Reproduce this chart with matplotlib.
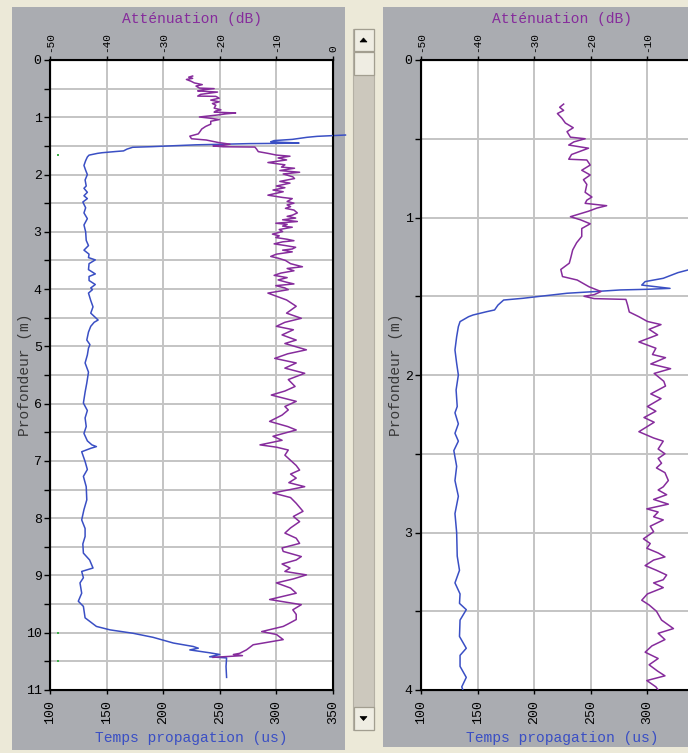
import matplotlib.pyplot as plt
from matplotlib.patches import Polygon, Rectangle
from matplotlib.ticker import MultipleLocator

blue_depth = [1.31, 1.333, 1.350, 1.386, 1.407, 1.429, 1.450, 1.456, 1.460, 1.471,
              1.481, 1.503, 1.513, 1.524, 1.556, 1.587, 1.598, 1.619, 1.630, 1.661,
              1.693, 1.757, 1.841, 1.926, 2.000, 2.095, 2.200, 2.24, 2.31, 2.37,
              2.42, 2.48, 2.58, 2.67, 2.77, 2.88, 3.00, 3.15, 3.24, 3.32,
              3.39, 3.45, 3.49, 3.556, 3.66, 3.735, 3.78, 3.85, 3.92, 3.98,
              4.01, 4.07, 4.20, 4.31, 4.42, 4.54, 4.58, 4.65, 4.75, 4.89,
              4.97, 5.03, 5.15, 5.29, 5.45, 5.64, 5.80, 5.99, 6.12, 6.25,
              6.40, 6.52, 6.65, 6.72, 6.75, 6.78, 6.84, 7.01, 7.15, 7.27,
              7.45, 7.68, 7.85, 8.03, 8.18, 8.32, 8.45, 8.61, 8.73, 8.87,
              8.93, 9.04, 9.13, 9.31, 9.45, 9.54, 9.74, 9.89, 9.95, 10.01,
              10.08, 10.18, 10.24, 10.27, 10.30, 10.35, 10.38, 10.42, 10.44, 10.59,
              10.78]
blue_time = [361, 336, 327, 314, 298, 295, 320, 299, 276, 252,
             229, 202, 190, 173, 168, 165, 158, 146, 142, 134.5,
             133, 131.5, 130, 131.5, 133, 131, 132, 130, 133, 130,
             133, 129, 131.5, 130, 133, 130, 131.5, 132, 134, 130,
             134.5, 134, 140, 134.5, 134, 140, 134.5, 134.5, 140, 136,
             137.5, 134, 136, 138, 136, 142.5, 139, 136, 134, 132.5,
             135.3, 134, 133, 131, 134, 132.5, 131, 129.5, 133, 131,
             132, 130, 133, 137, 141, 136, 128, 131, 133, 129.5,
             132, 132.5, 130, 128, 131, 131, 129, 129.5, 135, 138,
             128, 129.5, 126.5, 128, 125, 129.5, 131, 141, 153, 173.5,
             191, 209, 226.5, 231, 223.5, 241, 250, 241, 256, 255.5,
             256]

purple_depth = [0.28, 0.30, 0.32, 0.34, 0.37, 0.40, 0.43, 0.455, 0.49, 0.50,
                0.52, 0.54, 0.56, 0.60, 0.63, 0.635, 0.667, 0.70, 0.73, 0.76,
                0.79, 0.84, 0.87, 0.89, 0.91, 0.925, 0.94, 0.96, 0.995, 1.015,
                1.04, 1.07, 1.12, 1.16, 1.206, 1.25, 1.29, 1.33, 1.375, 1.397,
                1.44, 1.47, 1.49, 1.50, 1.515, 1.52, 1.556, 1.60, 1.63, 1.66,
                1.68, 1.71, 1.745, 1.79, 1.83, 1.87, 1.89, 1.93, 1.96, 1.99,
                2.04, 2.07, 2.12, 2.15, 2.20, 2.23, 2.27, 2.30, 2.36, 2.40,
                2.42, 2.47, 2.50, 2.53, 2.56, 2.59, 2.62, 2.67, 2.71, 2.73,
                2.76, 2.79, 2.82, 2.85, 2.87, 2.90, 2.92, 2.96, 2.995, 3.04,
                3.07, 3.10, 3.13, 3.155, 3.175, 3.21, 3.24, 3.27, 3.30, 3.32,
                3.35, 3.39, 3.43, 3.46, 3.50, 3.556, 3.61, 3.64, 3.68, 3.72,
                3.76, 3.80, 3.84, 3.88, 3.91, 3.94, 3.98, 4.01, 4.07, 4.19,
                4.30, 4.42, 4.51, 4.58, 4.65, 4.71, 4.80, 4.89, 4.95, 5.06,
                5.13, 5.21, 5.29, 5.38, 5.47, 5.58, 5.70, 5.78, 5.85, 5.96,
                6.05, 6.11, 6.20, 6.31, 6.40, 6.46, 6.57, 6.64, 6.72, 6.76,
                6.81, 6.90, 6.98, 7.08, 7.16, 7.23, 7.30, 7.38, 7.45, 7.56,
                7.64, 7.74, 7.88, 7.97, 8.06, 8.17, 8.26, 8.35, 8.44, 8.52,
                8.58, 8.67, 8.73, 8.80, 8.87, 8.93, 8.99, 9.06, 9.13, 9.22,
                9.31, 9.42, 9.51, 9.60, 9.68, 9.77, 9.85, 9.89, 9.98, 10.03,
                10.12, 10.21, 10.30, 10.36, 10.38, 10.40, 10.43]
purple_db = [-24.8, -25.5, -24.8, -25.9, -25.1, -24.5, -23.1, -24.2, -23.6, -21.0,
             -23.0, -23.9, -20.4, -23.4, -23.9, -20.7, -20.1, -21.6, -20.1, -21.3,
             -20.7, -21.0, -19.8, -20.7, -21.0, -17.2, -18.9, -20.4, -23.6, -21.8,
             -20.1, -21.6, -21.6, -22.5, -23.2, -23.5, -23.8, -25.3, -25.0, -22.4,
             -20.3, -18.2, -19.4, -21.2, -19.4, -13.8, -13.5, -13.2, -11.5, -10.0,
             -7.6, -9.7, -8.2, -11.5, -8.5, -9.1, -6.8, -9.4, -5.9, -8.8,
             -7.1, -6.8, -9.4, -7.6, -10.0, -8.5, -10.6, -8.8, -11.5, -8.9,
             -7.2, -8.1, -6.9, -8.1, -7.5, -8.4, -6.9, -6.3, -7.2, -8.1,
             -6.6, -8.9, -6.3, -10.1, -8.1, -8.9, -7.2, -9.5, -8.9, -10.7,
             -9.5, -10.1, -8.1, -6.9, -8.9, -10.4, -8.4, -6.6, -7.2, -8.9,
             -7.2, -10.0, -11.0, -9.7, -8.4, -7.5, -5.4, -8.1, -6.9, -9.2,
             -10.4, -8.1, -9.7, -8.2, -6.9, -10.1, -8.5, -7.9, -11.5, -8.2,
             -6.5, -8.2, -5.6, -8.5, -10.0, -7.0, -9.0, -6.5, -8.5, -4.7,
             -8.0, -10.3, -6.5, -8.5, -5.0, -7.9, -6.7, -8.5, -10.9, -6.5,
             -8.5, -7.9, -9.0, -11.2, -8.0, -6.5, -10.6, -9.0, -12.9, -10.0,
             -7.9, -8.5, -7.6, -6.5, -5.9, -7.5, -6.5, -7.8, -5.0, -10.6,
             -7.5, -6.5, -5.3, -7.0, -5.9, -7.5, -8.5, -6.5, -5.9, -9.0,
             -8.8, -5.6, -6.5, -9.0, -7.6, -8.5, -4.7, -7.0, -10.0, -7.5,
             -6.5, -11.2, -5.6, -7.1, -6.5, -6.5, -8.0, -8.8, -12.6, -10.0,
             -8.8, -14.1, -15.3, -16.5, -17.6, -16.0, -21.2]

mark_depth = [1.65, 10.0, 10.5]
mark_time = [107, 107, 107]

time_ticks = [100, 150, 200, 250, 300, 350]
db_ticks = [-50, -40, -30, -20, -10, 0]

W, H = 688, 753
BG = "#ECE9D8"
PANEL = "#AAACB1"
BLUE = "#3A4FC4"
PURPLE = "#862C9C"
GRID = "#C4C4C4"
MONO = ["Liberation Mono", "DejaVu Sans Mono"]

plt.rcParams["font.family"] = MONO
plt.rcParams["axes.unicode_minus"] = False

fig = plt.figure(figsize=(W / 100, H / 100), dpi=100, facecolor=BG)


def rect(x0, y0, x1, y1, **kw):
    fig.patches.append(Rectangle((x0 / W, 1 - y1 / H), (x1 - x0) / W, (y1 - y0) / H,
                                 transform=fig.transFigure, zorder=-5, **kw))


def tri(cx, cy, up):
    s = -1 if up else 1
    pts = [((cx - 3.5) / W, 1 - (cy - 2 * s) / H), ((cx + 3.5) / W, 1 - (cy - 2 * s) / H),
           (cx / W, 1 - (cy + 2 * s) / H)]
    fig.patches.append(Polygon(pts, closed=True, transform=fig.transFigure, zorder=-4,
                               facecolor="black", edgecolor="black", lw=0.5))


# fonds gris des deux vues + ascenseur
rect(12, 7, 345, 750, facecolor=PANEL, edgecolor="none")
rect(383, 7, 690, 747, facecolor=PANEL, edgecolor="none")
rect(353, 29, 374, 730, facecolor="#CCC8BD", edgecolor="#B4B0A4", lw=0.8)
for a, b in [(29, 51), (52, 75), (707, 730)]:
    rect(353.5, a, 373.5, b, facecolor="#EFEDE3", edgecolor="#A29E90", lw=0.9)
tri(363.5, 40, True)
tri(363.5, 718.5, False)


def panel(x0, depth_max, left_view):
    # la vue de droite déborde de la capture : on ne garde que les graduations visibles
    t_ticks = time_ticks if left_view else time_ticks[:-1]
    d_ticks = db_ticks if left_view else db_ticks[:-1]

    ax = fig.add_axes([x0 / W, 1 - 690 / H, 283 / W, 630 / H])
    ax.set_facecolor("white")
    ax.set_xlim(100, 350)
    ax.set_ylim(depth_max, 0)
    ax.set_xticks(t_ticks)
    ax.set_xticklabels([str(t) for t in t_ticks], rotation=90, fontsize=8.5)
    ax.yaxis.set_major_locator(MultipleLocator(1))
    ax.yaxis.set_minor_locator(MultipleLocator(0.5))
    ax.grid(True, which="both", axis="y", color=GRID, lw=1.4)
    ax.grid(True, which="major", axis="x", color=GRID, lw=1.4)
    ax.set_axisbelow(True)
    ax.tick_params(which="both", direction="out", length=4, width=1, labelsize=9.5, pad=2)
    ax.tick_params(axis="x", length=3, pad=4)
    for sp in ax.spines.values():
        sp.set_linewidth(1.5)
    ax.set_xlabel("Temps propagation (us)", color=BLUE, fontsize=10.5, labelpad=5)
    ax.set_ylabel("Profondeur (m)", color="#383838", fontsize=10.5)
    ax.yaxis.set_label_coords(-18 / 283, 0.5)

    top = ax.twiny()
    top.set_xlim(-50, 0)
    top.set_xticks(d_ticks)
    top.set_xticklabels([str(t) for t in d_ticks], rotation=90, fontsize=8)
    top.tick_params(axis="x", direction="out", length=3, width=1, pad=3)
    top.set_xlabel("Atténuation (dB)", color=PURPLE, fontsize=10.5, labelpad=6)

    ax.plot(blue_time, blue_depth, color=BLUE, lw=1.1, clip_on=not left_view, zorder=3)
    top.plot(purple_db, purple_depth, color=PURPLE, lw=1.1, zorder=3)
    if left_view:
        ax.plot(mark_time, mark_depth, ls="none", marker="s", ms=1.6, color="#3FAF4A", mew=0)
    return ax


panel(50, 11, True)
panel(421, 4, False)

fig.savefig("out.png", dpi=100, facecolor=BG)
